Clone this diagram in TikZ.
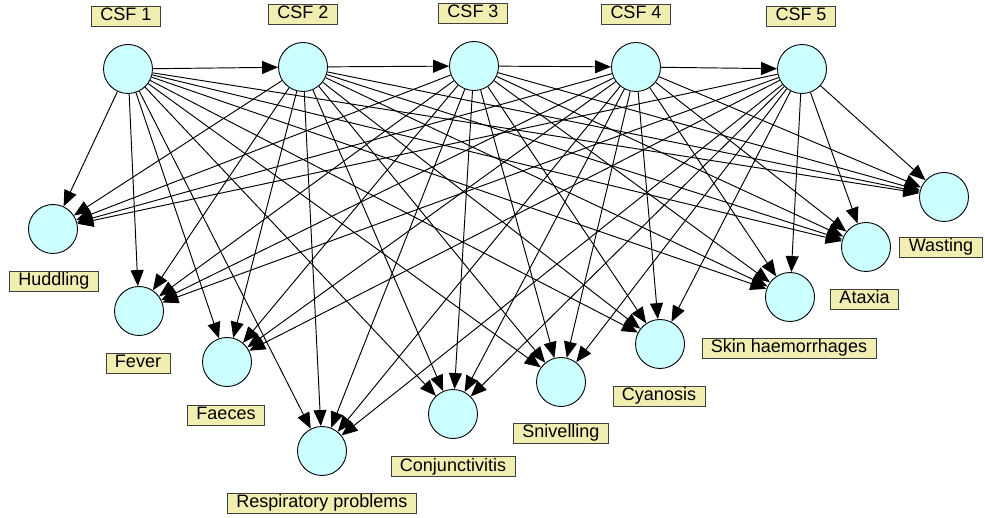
\documentclass[tikz,border=0pt]{standalone}
\usepackage{fontspec}
\setmainfont{Liberation Sans}
\usetikzlibrary{arrows.meta}
\definecolor{nodefill}{RGB}{204,255,255}
\definecolor{labfill}{RGB}{240,238,176}
\begin{document}
\begin{tikzpicture}[x=1pt,y=-1pt,
  var/.style={circle,draw,line width=0.9pt,fill=nodefill,minimum size=49pt,inner sep=0pt},
  lab/.style={draw=black!75,line width=0.9pt,fill=labfill,inner xsep=9pt,inner ysep=1.5pt,
    text height=13pt,text depth=4pt,font=\fontsize{18}{21}\selectfont},
  arr/.style={-{Triangle[length=16pt,width=13pt]},line width=0.95pt}]
\useasboundingbox (0,0) rectangle (985,518);
% CSF nodes
\node[var] (c1) at (128,69) {};
\node[var] (c2) at (303,67) {};
\node[var] (c3) at (474,66) {};
\node[var] (c4) at (636,67) {};
\node[var] (c5) at (802,69) {};
\node[lab] (lc1) at (126,16) {CSF 1};
\node[lab] (lc2) at (303,14) {CSF 2};
\node[lab] (lc3) at (473,13) {CSF 3};
\node[lab] (lc4) at (636,14) {CSF 4};
\node[lab] (lc5) at (801,16) {CSF 5};
% symptom nodes
\node[var] (hud) at (53,229) {};
\node[var] (fev) at (139,311) {};
\node[var] (fae) at (227,362) {};
\node[var] (res) at (322,451) {};
\node[var] (con) at (453,414) {};
\node[var] (sni) at (561,382) {};
\node[var] (cya) at (660,344) {};
\node[var] (ski) at (790,297) {};
\node[var] (ata) at (866,247) {};
\node[var] (was) at (944,197) {};
\node[lab] (lhud) at (54,281.5) {Huddling};
\node[lab] (lfev) at (138,363) {Fever};
\node[lab] (lfae) at (226,415) {Faeces};
\node[lab] (lres) at (322,503) {Respiratory problems};
\node[lab] (lcon) at (453,466.5) {Conjunctivitis};
\node[lab] (lsni) at (561,433) {Snivelling};
\node[lab] (lcya) at (659,396) {Cyanosis};
\node[lab] (lski) at (789,348.5) {Skin haemorrhages};
\node[lab] (lata) at (864.5,299) {Ataxia};
\node[lab] (lwas) at (941,247.5) {Wasting};
% edges
\draw[arr] (c1) -- (c2);
\draw[arr] (c2) -- (c3);
\draw[arr] (c3) -- (c4);
\draw[arr] (c4) -- (c5);
\foreach \c in {c1,c2,c3,c4,c5}
  \foreach \s in {hud,fev,fae,res,con,sni,cya,ski,ata,was}
    \draw[arr] (\c) -- (\s);
\end{tikzpicture}
\end{document}
